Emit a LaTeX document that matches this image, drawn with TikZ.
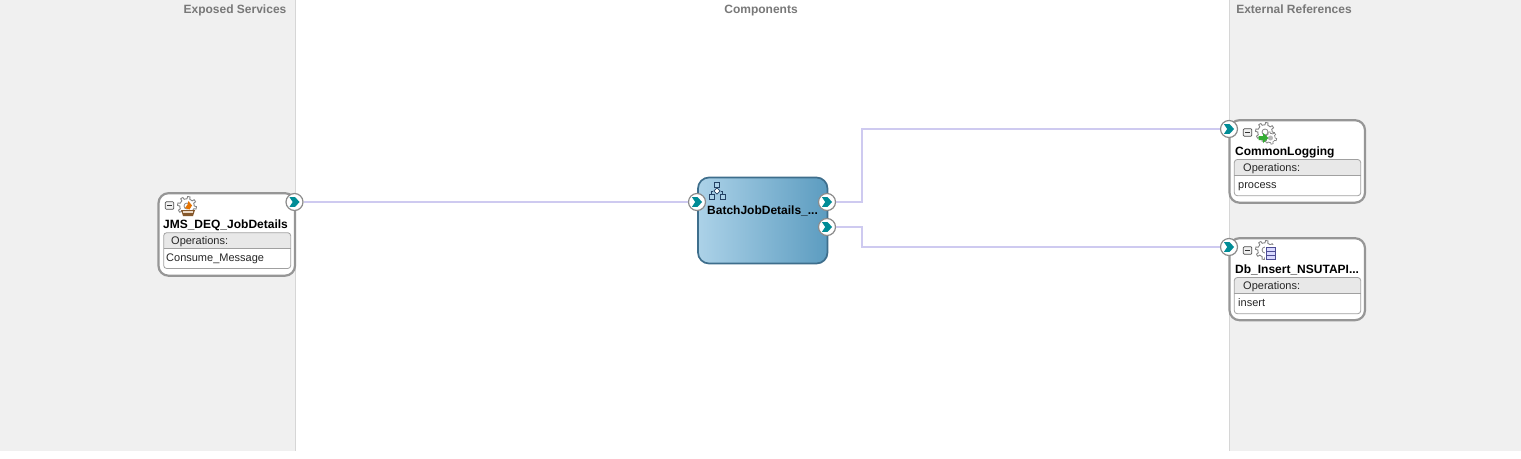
\documentclass[tikz,border=0pt]{standalone}
\usepackage{fontspec}
\setmainfont{Liberation Sans}
\usetikzlibrary{calc,shapes.geometric}
\definecolor{panelbg}{RGB}{240,240,240}
\definecolor{panelline}{RGB}{214,214,214}
\definecolor{heading}{RGB}{120,120,120}
\definecolor{wire}{RGB}{206,202,240}
\definecolor{frameg}{RGB}{150,150,150}
\definecolor{teal}{RGB}{0,140,150}
\definecolor{compL}{RGB}{172,210,232}
\definecolor{compR}{RGB}{92,156,192}
\definecolor{compB}{RGB}{62,110,140}
\definecolor{opshead}{RGB}{232,232,232}
\definecolor{opsline}{RGB}{160,160,160}
\definecolor{geargray}{RGB}{135,135,135}
\definecolor{icondark}{RGB}{35,65,100}
\tikzset{
  panel/.style={fill=panelbg,draw=none,minimum width=#1,minimum height=451pt,inner sep=0pt,anchor=north west},
  headlabel/.style={font=\fontsize{12}{14}\selectfont\bfseries,text=heading,inner sep=0pt},
  svcbox/.style={draw=frameg,line width=2.2pt,rounded corners=10pt,fill=white,inner sep=0pt,outer sep=0pt,anchor=north west},
  compbox/.style={draw=compB,line width=1.7pt,rounded corners=11pt,left color=compL,right color=compR,inner sep=0pt,outer sep=0pt,minimum width=129.5pt,minimum height=86pt,anchor=north west},
  titlelabel/.style={font=\fontsize{12}{14}\selectfont\bfseries,text=black,inner sep=0pt},
  opstext/.style={font=\fontsize{11}{13}\selectfont,text=black!85,inner sep=0pt},
  portnode/.style={circle,draw=black!45,line width=1.2pt,fill=white,minimum size=17pt,inner sep=0pt},
  wireline/.style={draw=wire,line width=2pt},
  minusbox/.style={draw=black!70,line width=.7pt,rounded corners=1pt,fill=black!6,minimum width=8.5pt,minimum height=7.5pt,inner sep=0pt},
  orgbox/.style={draw=icondark,fill=compL,line width=.8pt,minimum size=5pt,inner sep=0pt},
  chev/.pic={\fill[teal] (-5,-4.8) -- (0.5,-4.8) -- (5.2,0) -- (0.5,4.8) -- (-5,4.8) -- (-1.8,0) -- cycle;},
  gear/.pic={
    \draw[fill=white,draw=geargray,line width=.9pt] plot[domain=0:360,samples=97] (\x:{7.2+2.3*(sin(8*\x)>0)}) -- cycle;
    \draw[fill=white,draw=geargray,line width=.8pt] (0,0) circle (3pt);
  },
  minigear/.pic={
    \draw[fill=white,draw=geargray,line width=.7pt] plot[domain=0:360,samples=73] (\x:{4.6+1.6*(sin(6*\x)>0)}) -- cycle;
    \fill[geargray!60] (0,0) circle (2.5pt);
  },
}
\begin{document}
\begin{tikzpicture}[x=1pt,y=-1pt]
\useasboundingbox (0,0) rectangle (1521,458);
\fill[white] (0,0) rectangle (1521,458);
\node[panel=295pt] (left) at (0,0) {};
\node[panel=292pt] (right) at (1229,0) {};
\draw[panelline,line width=1pt] (295.5,0) -- (295.5,451);
\draw[panelline,line width=1pt] (1229.5,0) -- (1229.5,451);
\node[headlabel,anchor=base] (h1) at (235,13) {Exposed Services};
\node[headlabel,anchor=base] (h2) at (761,13) {Components};
\node[headlabel,anchor=base] (h3) at (1294,13) {External References};

% JMS service
\node[svcbox,minimum width=136.5pt,minimum height=82.5pt] (jms) at (158.5,193.2) {};
\node[minusbox] (m1) at (169.5,205.5) {};
\draw[black!80,line width=.9pt] (166.8,205.5) -- (172.2,205.5);
\node[inner sep=0pt] (g1) at (187,206) {};
\pic at (g1) {gear};
\fill[orange!90!black] (188.5,201) -- (192,205.5) -- (189.5,209.5) -- (185,208) -- (187.5,204.5) -- cycle;
\fill[brown!70!black] (181,210) -- (195,210) -- (193,216) -- (183,216) -- cycle;
\fill[white!70!brown] (183,211) rectangle (193,212.5);
\node[titlelabel,anchor=base] (t1) at (225.5,228) {JMS\_DEQ\_JobDetails};
\begin{scope}
\clip[rounded corners=3pt] (163.7,232.7) rectangle (290.7,268.5);
\fill[white] (163.7,232.7) rectangle (290.7,268.5);
\fill[opshead] (163.7,232.7) rectangle (290.7,248.5);
\end{scope}
\draw[opsline,line width=.8pt,rounded corners=3pt] (163.7,232.7) rectangle (290.7,268.5);
\draw[opsline,line width=.8pt] (163.7,248.5) -- (290.7,248.5);
\node[opstext,anchor=base west] (l1) at (171,244.5) {Operations:};
\node[opstext,anchor=base west] (v1) at (166,261.5) {Consume\_Message};

% Component
\node[compbox] (comp) at (698,177.5) {};
\node[titlelabel,anchor=base west] (t2) at (707,214) {BatchJobDetails\_...};
\node[orgbox] (c1) at (717,184.5) {};
\node[orgbox] (c2) at (711.5,196.5) {};
\node[orgbox] (c3) at (722.8,196.5) {};
\node[draw=icondark,fill=white,line width=.7pt,diamond,inner sep=1.6pt] (c4) at (717,191) {};
\draw[icondark,line width=.8pt] (c1) -- (c4) (c4) -| (c2) (c4) -| (c3);

% CommonLogging
\node[svcbox,minimum width=135.5pt,minimum height=82.5pt] (cl) at (1229.5,120.2) {};
\node[minusbox] (m2) at (1247.5,132.5) {};
\draw[black!80,line width=.9pt] (1244.8,132.5) -- (1250.2,132.5);
\node[inner sep=0pt] (g2) at (1265,132) {};
\pic at (g2) {gear};
\node[inner sep=0pt] (g2b) at (1270.5,138) {};
\pic at (g2b) {minigear};
\fill[green!60!black!80] (1258.5,136) -- (1263,136) -- (1263,133) -- (1268.5,138) -- (1263,143) -- (1263,140) -- (1258.5,140) -- cycle;
\node[titlelabel,anchor=base west] (t3) at (1235,155) {CommonLogging};
\begin{scope}
\clip[rounded corners=3pt] (1234.3,159.5) rectangle (1360.7,195.7);
\fill[white] (1234.3,159.5) rectangle (1360.7,195.7);
\fill[opshead] (1234.3,159.5) rectangle (1360.7,175.5);
\end{scope}
\draw[opsline,line width=.8pt,rounded corners=3pt] (1234.3,159.5) rectangle (1360.7,195.7);
\draw[opsline,line width=.8pt] (1234.3,175.5) -- (1360.7,175.5);
\node[opstext,anchor=base west] (l3) at (1243,171.5) {Operations:};
\node[opstext,anchor=base west] (v3) at (1238,188.5) {process};

% Db insert
\node[svcbox,minimum width=135.5pt,minimum height=82pt] (db) at (1229.5,238.2) {};
\node[minusbox] (m4) at (1247.5,250.5) {};
\draw[black!80,line width=.9pt] (1244.8,250.5) -- (1250.2,250.5);
\node[inner sep=0pt] (g4) at (1265,250) {};
\pic at (g4) {gear};
\fill[white] (1265,245) rectangle (1276,261);
\draw[blue!40!black!70,fill=blue!15,line width=.8pt] (1266,247) rectangle (1275,259.5);
\draw[blue!40!black!70,line width=.8pt] (1266,251) -- (1275,251) (1266,255) -- (1275,255);
\node[titlelabel,anchor=base west] (t4) at (1235,273) {Db\_Insert\_NSUTAPI...};
\begin{scope}
\clip[rounded corners=3pt] (1234.3,277.5) rectangle (1360.7,313.7);
\fill[white] (1234.3,277.5) rectangle (1360.7,313.7);
\fill[opshead] (1234.3,277.5) rectangle (1360.7,293.5);
\end{scope}
\draw[opsline,line width=.8pt,rounded corners=3pt] (1234.3,277.5) rectangle (1360.7,313.7);
\draw[opsline,line width=.8pt] (1234.3,293.5) -- (1360.7,293.5);
\node[opstext,anchor=base west] (l4) at (1243,289.5) {Operations:};
\node[opstext,anchor=base west] (v4) at (1238,306.5) {insert};

% Ports
\node[portnode] (p1) at (294.5,202) {};
\node[portnode] (p2) at (697,202) {};
\node[portnode] (p3) at (827,202) {};
\node[portnode] (p4) at (827,227) {};
\node[portnode] (p5) at (1229,129) {};
\node[portnode] (p6) at (1229,247) {};
\foreach \p in {p1,p2,p3,p4,p5,p6}{\pic at (\p) {chev};}
\coordinate (e1) at (862,202);
\coordinate (e2) at (862,129);
\coordinate (e3) at (862,227);
\coordinate (e4) at (862,247);

% Connectors
\draw[wireline] (p1) -- (p2);
\draw[wireline] (p3) -- (e1) -- (e2) -- (p5);
\draw[wireline] (p4) -- (e3) -- (e4) -- (p6);
\end{tikzpicture}
\end{document}
